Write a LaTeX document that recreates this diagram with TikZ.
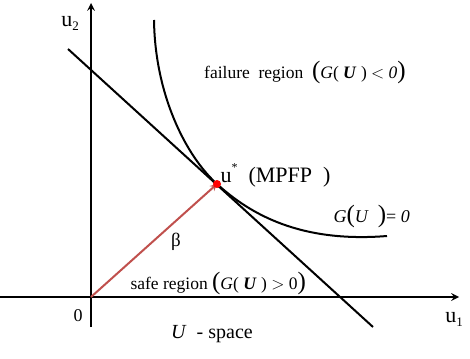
\documentclass[tikz,border=0pt]{standalone}
\usepackage{fontspec}
\setmainfont{Liberation Serif}
\usetikzlibrary{arrows}

\definecolor{betared}{RGB}{192,80,77}
\newcommand{\bigpar}[1]{{\fontsize{25}{25}\selectfont #1}}

\begin{document}
\begin{tikzpicture}[x=1pt, y=-1pt, >=stealth]
  \useasboundingbox (0,0) rectangle (470,358);

  % --- points ---
  \coordinate (O) at (91,297);
  \coordinate (P) at (217,184);

  % --- axes ---
  \draw[->, line width=2.4pt] (0,297) -- (459,297);
  \draw[->, line width=2.4pt] (91,327) -- (91,3);
  \node[font=\fontsize{22}{22}\selectfont] (lu1) at (454,319) {u\raisebox{-0.4ex}{\fontsize{13}{13}\selectfont 1}};
  \node[font=\fontsize{22}{22}\selectfont] (lu2) at (70,23) {u\raisebox{-0.4ex}{\fontsize{13}{13}\selectfont 2}};
  \node[font=\fontsize{18}{18}\selectfont] (l0) at (78,316) {0};

  % --- tangent line and limit state curve ---
  \draw[line width=2pt] (68,49) -- (373,327);
  \draw[line width=2pt] (154,20) .. controls (155,95) and (186,156) .. (P)
    .. controls (250,214) and (300,243) .. (387,236);

  % --- beta vector ---
  \draw[->, line width=2pt, betared] (O) -- (P);
  \fill[red] (P) circle (4pt);

  % --- labels ---
  \node[font=\fontsize{17.5}{17.5}\selectfont] (fail) at (305,72)
    {failure\ \ region\ \ \bigpar{(}\textit{G}( \textbf{\textit{U}} ) $<$ \textit{0}\bigpar{)}};
  \node[font=\fontsize{22}{22}\selectfont, anchor=west] (mpfp) at (217,175)
    {u\raisebox{1.1ex}{\fontsize{12}{12}\selectfont *}\ \ (MPFP\ \ )};
  \node[font=\fontsize{18}{18}\selectfont, anchor=west] (gu) at (330,216)
    {\textit{G}\bigpar{(}\textit{U}\ \ \bigpar{)}= \textit{0}};
  \node[font=\fontsize{19}{19}\selectfont] (beta) at (176,242) {β};
  \node[font=\fontsize{17.5}{17.5}\selectfont, anchor=west] (safe) at (127,283)
    {safe region\ \bigpar{(}\textit{G}( \textbf{\textit{U}} ) $>$ 0\bigpar{)}};
  \node[font=\fontsize{20}{20}\selectfont] (space) at (212,334) {\textit{U}\ \ - space};

\end{tikzpicture}
\end{document}
